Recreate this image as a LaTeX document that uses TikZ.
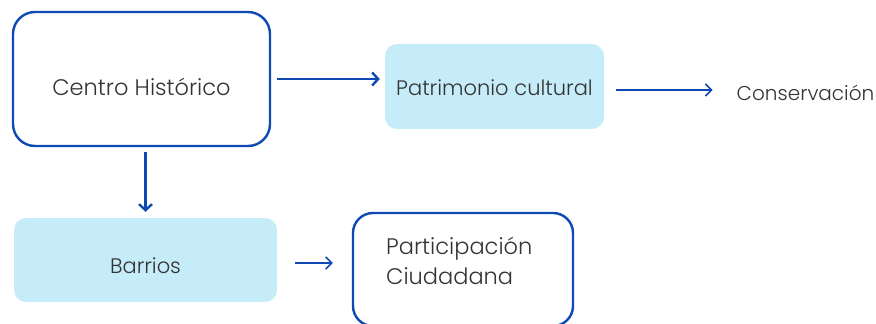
\documentclass[tikz,border=0pt]{standalone}
\usepackage{fontspec}
\setmainfont{Poppins Light}
\usepackage{tikz}
\usetikzlibrary{positioning, arrows.meta}
\definecolor{azul}{HTML}{0F4AB4}
\definecolor{celeste}{HTML}{C6ECF9}
\definecolor{texto}{HTML}{333333}
\tikzstyle{marco} = [rectangle, draw=azul, line width=2.4pt, rounded corners=22pt,
                     text=texto, text centered, font=\fontsize{22.5}{30}\selectfont]
\tikzstyle{relleno} = [rectangle, fill=celeste, rounded corners=12pt,
                       text=texto, text centered, font=\fontsize{21}{26}\selectfont]
\tikzstyle{arrow} = [line width=2.4pt, draw=azul, -{Straight Barb[length=6pt, width=13pt]}]
\tikzstyle{arrowthin} = [line width=1.5pt, draw=azul, -{Straight Barb[length=6pt, width=12pt]}]

\begin{document}
\begin{tikzpicture}[x=1pt, y=-1pt]
\useasboundingbox [clip] (0,0) rectangle (876,324);
\node [marco, minimum width=257pt, minimum height=134pt, text height=32pt,
	text depth=0pt] at (141.5,79) (centro) {Centro Histórico};
\node [relleno, minimum width=219pt, minimum height=85pt, text height=17pt,
	text depth=0pt] at (494.5,86.5) (patrimonio) {Patrimonio cultural};
\node [text=texto, font=\fontsize{20}{24}\selectfont, inner sep=0pt, text height=20pt,
	text depth=0pt] at (805.5,90) (conservacion) {Conservación};
\node [relleno, minimum width=263pt, minimum height=84pt, text height=26pt,
	text depth=0pt] at (145.5,260) (barrios) {Barrios};
\node [marco, rounded corners=20pt, minimum width=220pt, minimum height=113pt]
	at (463,269.5) (participacion) {};
\node [text=texto, font=\fontsize{22.5}{30}\selectfont, align=left, anchor=west,
	inner sep=0pt] at (386,261) (participacion_txt) {Participación\\Ciudadana};
\draw [arrow, shorten <=6pt, shorten >=5pt] (centro.east) -- (centro.east -| patrimonio.west);
\draw [arrowthin, shorten <=12pt, shorten >=24pt] (patrimonio.east |- conservacion)
	-- (conservacion.west);
\draw [arrow, shorten <=5pt, shorten >=6pt] (centro.south -| barrios.north) -- (barrios.north);
\draw [arrowthin, shorten <=18pt, shorten >=19pt] ([yshift=-3pt]barrios.east)
	-- ([yshift=-3pt]barrios.east -| participacion.west);
\end{tikzpicture}
\end{document}
